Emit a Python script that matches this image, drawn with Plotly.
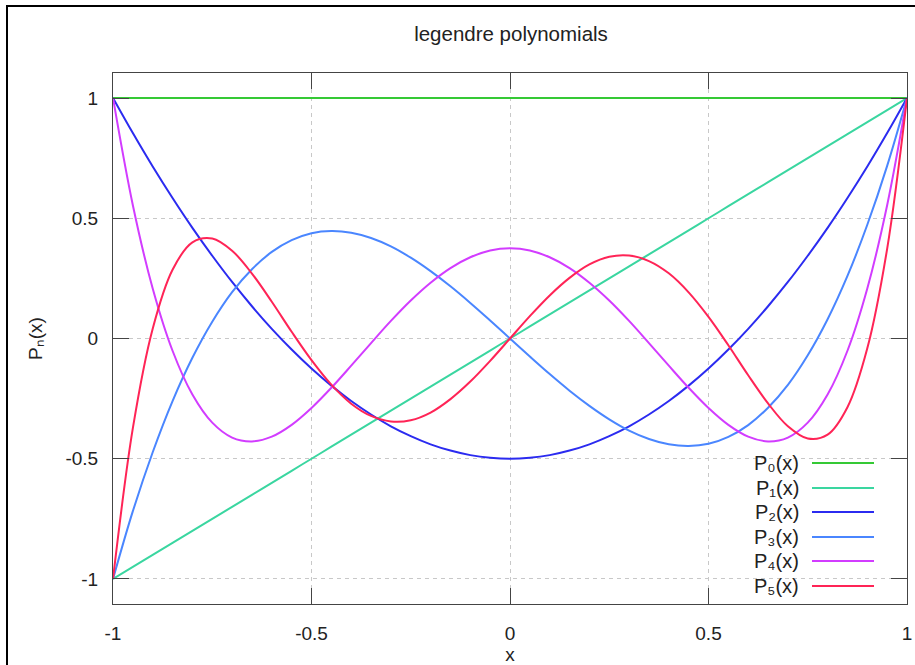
import plotly.graph_objects as go

x = [-1.00, -0.95, -0.90, -0.85, -0.80, -0.75, -0.70, -0.65, -0.60, -0.55, -0.50,
     -0.45, -0.40, -0.35, -0.30, -0.25, -0.20, -0.15, -0.10, -0.05, 0.00,
     0.05, 0.10, 0.15, 0.20, 0.25, 0.30, 0.35, 0.40, 0.45, 0.50,
     0.55, 0.60, 0.65, 0.70, 0.75, 0.80, 0.85, 0.90, 0.95, 1.00]

p0 = [1.0] * 41
p1 = [-1.00, -0.95, -0.90, -0.85, -0.80, -0.75, -0.70, -0.65, -0.60, -0.55, -0.50,
      -0.45, -0.40, -0.35, -0.30, -0.25, -0.20, -0.15, -0.10, -0.05, 0.00,
      0.05, 0.10, 0.15, 0.20, 0.25, 0.30, 0.35, 0.40, 0.45, 0.50,
      0.55, 0.60, 0.65, 0.70, 0.75, 0.80, 0.85, 0.90, 0.95, 1.00]
p2 = [1.000, 0.854, 0.715, 0.584, 0.460, 0.344, 0.235, 0.134, 0.040, -0.046, -0.125,
      -0.196, -0.260, -0.316, -0.365, -0.406, -0.440, -0.466, -0.485, -0.496, -0.500,
      -0.496, -0.485, -0.466, -0.440, -0.406, -0.365, -0.316, -0.260, -0.196, -0.125,
      -0.046, 0.040, 0.134, 0.235, 0.344, 0.460, 0.584, 0.715, 0.854, 1.000]
p3 = [-1.000, -0.718, -0.473, -0.260, -0.080, 0.070, 0.193, 0.288, 0.360, 0.409, 0.438,
      0.447, 0.440, 0.418, 0.383, 0.336, 0.280, 0.217, 0.148, 0.075, 0.000,
      -0.075, -0.148, -0.217, -0.280, -0.336, -0.383, -0.418, -0.440, -0.447, -0.438,
      -0.409, -0.360, -0.288, -0.193, -0.070, 0.080, 0.260, 0.473, 0.718, 1.000]
p4 = [1.000, 0.554, 0.208, -0.051, -0.233, -0.350, -0.412, -0.428, -0.408, -0.359, -0.289,
      -0.205, -0.113, -0.019, 0.073, 0.158, 0.232, 0.293, 0.338, 0.366, 0.375,
      0.366, 0.338, 0.293, 0.232, 0.158, 0.073, -0.019, -0.113, -0.205, -0.289,
      -0.359, -0.408, -0.428, -0.412, -0.350, -0.233, -0.051, 0.208, 0.554, 1.000]
p5 = [-1.000, -0.373, 0.041, 0.286, 0.400, 0.416, 0.365, 0.270, 0.153, 0.028, -0.090,
      -0.192, -0.271, -0.322, -0.345, -0.340, -0.308, -0.252, -0.179, -0.093, 0.000,
      0.093, 0.179, 0.252, 0.308, 0.340, 0.345, 0.322, 0.271, 0.192, 0.090,
      -0.028, -0.153, -0.270, -0.365, -0.416, -0.400, -0.286, -0.041, 0.373, 1.000]

series = [p0, p1, p2, p3, p4, p5]
names = ["P\u2080(x)", "P\u2081(x)", "P\u2082(x)", "P\u2083(x)", "P\u2084(x)", "P\u2085(x)"]
colors = ["#35c935", "#3ad6a0", "#2b2bf0", "#4a86ff", "#d23cff", "#ff2456"]

xticks = [-1, -0.5, 0, 0.5, 1]
xticklabels = ["-1", "-0.5", "0", "0.5", "1"]
yticks = [-1, -0.5, 0, 0.5, 1]
yticklabels = ["-1", "-0.5", "0", "0.5", "1"]

FONT = "Liberation Sans, Arial, sans-serif"

fig = go.Figure()
for ys, nm, c in zip(series, names, colors):
    fig.add_trace(go.Scatter(x=x, y=ys, mode="lines", name=nm,
                             line=dict(color=c, width=2, shape="spline", smoothing=1.0),
                             showlegend=False))

# manual gnuplot-style legend (text then sample line)
W, H = 794, 531
L, B = 113, 604
rows_px = [463, 488, 512, 537, 561, 586]
shapes = []
annotations = []
for nm, c, py in zip(names, colors, rows_px):
    yp = (B - py) / H
    annotations.append(dict(xref="paper", yref="paper", x=(801 - L) / W, y=yp,
                            text=nm, showarrow=False, xanchor="right", yanchor="middle",
                            font=dict(family=FONT, size=20, color="#222222")))
    shapes.append(dict(type="line", xref="paper", yref="paper",
                       x0=(812 - L) / W, x1=(874 - L) / W, y0=yp, y1=yp,
                       line=dict(color=c, width=2)))

# outer frame
shapes.append(dict(type="rect", xref="paper", yref="paper",
                   x0=(7 - L) / W, x1=(925 - L) / W, y0=(B - 680) / H, y1=1 + (73 - 6) / H,
                   line=dict(color="black", width=2), fillcolor="rgba(0,0,0,0)", layer="below"))

fig.update_layout(
    width=915, height=665,
    margin=dict(l=113, r=8, t=73, b=61, autoexpand=False),
    paper_bgcolor="white", plot_bgcolor="white",
    title=dict(text="legendre polynomials", x=511 / 915, xanchor="center",
               y=1 - 34 / 665, yanchor="middle",
               font=dict(family=FONT, size=20.5, color="#222222")),
    font=dict(family=FONT, size=19, color="#222222"),
    shapes=shapes, annotations=annotations,
    xaxis=dict(range=[-1, 1], tickvals=xticks, ticktext=xticklabels, automargin=False,
               showline=True, linecolor="#444444", linewidth=1, mirror="ticks",
               ticks="inside", ticklen=16, tickcolor="#444444", tickwidth=1,
               showgrid=True, gridcolor="#c8c8c8", griddash="4px,4px", gridwidth=1,
               zeroline=False, ticklabelstandoff=12,
               title=dict(text="x", standoff=12, font=dict(size=19))),
    yaxis=dict(range=[-1.104, 1.104], tickvals=yticks, ticktext=yticklabels, automargin=False,
               showline=True, linecolor="#444444", linewidth=1, mirror="ticks",
               ticks="inside", ticklen=16, tickcolor="#444444", tickwidth=1,
               showgrid=True, gridcolor="#c8c8c8", griddash="4px,4px", gridwidth=1,
               zeroline=False, ticklabelstandoff=10,
               title=dict(text="P\u2099(x)", standoff=17, font=dict(size=19))),
)

fig.write_html("out.html")
